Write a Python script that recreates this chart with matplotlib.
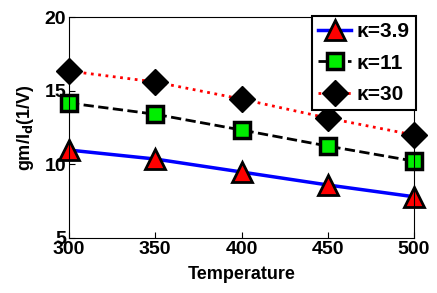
import matplotlib
matplotlib.use('Agg')
import matplotlib.pyplot as plt

temps = [300, 350, 400, 450, 500]
k39 = [10.97, 10.36, 9.48, 8.6, 7.8]
k11 = [14.16, 13.4, 12.33, 11.24, 10.22]
k30 = [16.33, 15.59, 14.43, 13.14, 11.99]
labels = [u'\u03ba=3.9', u'\u03ba=11', u'\u03ba=30']

plt.rcParams['font.family'] = ['Liberation Sans', 'DejaVu Sans']
plt.rcParams['font.weight'] = 'bold'

fig = plt.figure(figsize=(4.37, 2.93), dpi=100)
ax = fig.add_axes([69/437, 1-238/293, (414-69)/437, (238-17)/293])

ax.plot(temps, k39, '-', color='blue', lw=2.5, marker='^', ms=15,
        mfc='red', mec='black', mew=2, label=labels[0], clip_on=False)
ax.plot(temps, k11, '--', color='black', lw=2, marker='s', ms=11,
        mfc='#00ee00', mec='black', mew=2.5, label=labels[1], clip_on=False)
ax.plot(temps, k30, ':', color='red', lw=2, marker='D', ms=13,
        mfc='black', mec='black', mew=1, label=labels[2], clip_on=False)

ax.set_xlim(300, 500)
ax.set_ylim(5, 20)
ax.set_xticks([300, 350, 400, 450, 500])
ax.set_yticks([5, 10, 15, 20])
ax.tick_params(direction='in', labelsize=14, length=4, pad=2)
ax.set_xlabel('Temperature', fontsize=13, fontweight='bold', labelpad=6)
ax.set_ylabel('gm/I$_\\mathbf{d}$(1/V)', fontsize=13, fontweight='bold', labelpad=6)

leg = ax.legend(loc='upper right', fontsize=15, frameon=True, fancybox=False,
                handlelength=1.6, borderpad=0.3, labelspacing=0.6,
                handletextpad=0.25, borderaxespad=0.0,
                bbox_to_anchor=(1.005, 1.005))
leg.get_frame().set_edgecolor('black')
leg.get_frame().set_linewidth(1.5)
leg.get_frame().set_alpha(1)
leg.set_zorder(5)

fig.savefig('out.png', dpi=100)
